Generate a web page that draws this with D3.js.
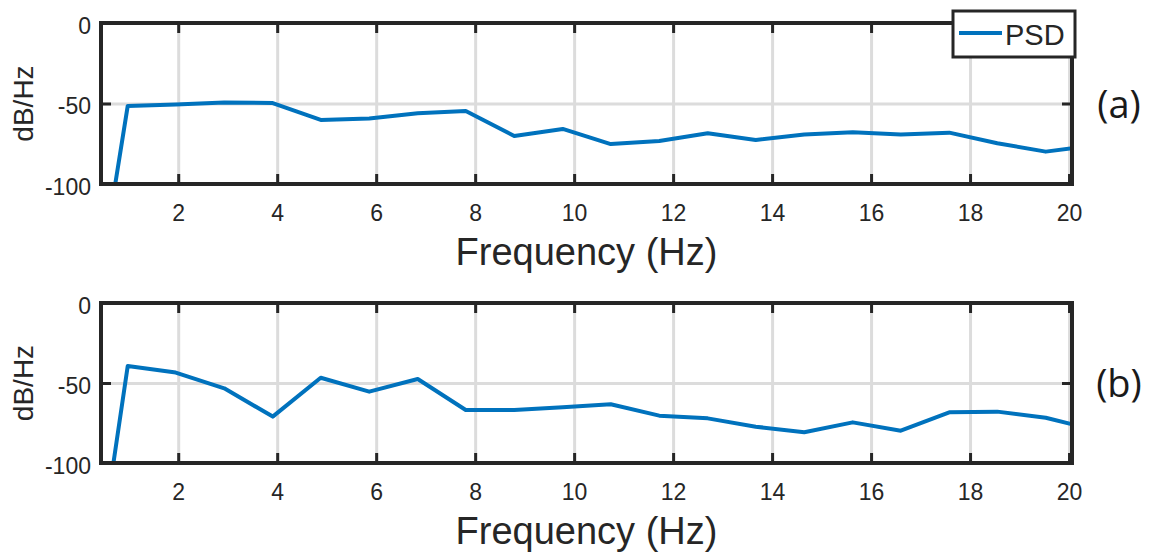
<!DOCTYPE html>
<html>
<head>
<meta charset="utf-8">
<script src="https://cdn.jsdelivr.net/npm/d3@7"></script>
<style>
  body { margin: 0; background: #fff; }
  text { font-family: "Liberation Sans", Arial, sans-serif; fill: #262626; }
</style>
</head>
<body>
<script>
// PSD values (dB/Hz), one point per frequency bin
const freqs = [0, 0.98, 1.95, 2.93, 3.91, 4.88, 5.86, 6.84, 7.81, 8.79, 9.77,
    10.74, 11.72, 12.70, 13.67, 14.65, 15.63, 16.60, 17.58, 18.55, 19.53, 20.51];
const psdA = [-240, -51.5, -50.6, -49.4, -49.7, -60.2, -59.3, -56, -54.7, -70.2, -65.8,
    -75.2, -73.3, -68.5, -72.7, -69.2, -67.9, -69.2, -68.1, -74.7, -79.9, -76];
const psdB = [-245, -39.4, -43.5, -53.3, -71, -46.7, -55.4, -47.5, -66.9, -66.9, -65.2,
    -63.3, -70.4, -72.1, -77.3, -80.8, -74.6, -79.8, -68.3, -67.9, -71.7, -79.3];
const xTicks = [2, 4, 6, 8, 10, 12, 14, 16, 18, 20];
const yTicks = [0, -50, -100];
const panelLabels = ["(a)", "(b)"];
const seriesName = "PSD";

const w = 1157;
const h = 559;
const left = 101, right = 1072;
const blue = "#0072BD";
const dark = "#262626";
const gridColor = "#dcdcdc";

const svg = d3.select("body")
    .append("svg")
        .attr("width", w)
        .attr("height", h)

const x = d3.scaleLinear().domain([0.44, 20.06]).range([left, right]);

function drawPanel(values, label, top, bottom, idx) {
    const y = d3.scaleLinear().domain([-100, 0]).range([bottom, top]);
    const g = svg.append("g");
    const ht = bottom - top;

    // grid lines
    g.append("g")
        .attr("transform", `translate(0,${bottom})`)
        .call(d3.axisBottom(x).tickValues(xTicks).tickSize(-ht).tickFormat(""))
        .call(a => a.select(".domain").remove())
        .selectAll("line")
            .attr("stroke", gridColor)
            .attr("stroke-width", 3)
    g.append("g")
        .attr("transform", `translate(${left},0)`)
        .call(d3.axisLeft(y).tickValues([-50]).tickSize(-(right - left)).tickFormat(""))
        .call(a => a.select(".domain").remove())
        .selectAll("line")
            .attr("stroke", gridColor)
            .attr("stroke-width", 3)

    // the data line, clipped to the axes box
    g.append("clipPath")
        .attr("id", "clip" + idx)
        .append("rect")
            .attr("x", left)
            .attr("y", top)
            .attr("width", right - left)
            .attr("height", ht)

    g.append("path")
        .datum(freqs.map((f, i) => [f, values[i]]))
        .attr("clip-path", `url(#clip${idx})`)
        .attr("fill", "none")
        .attr("stroke", blue)
        .attr("stroke-width", 4)
        .attr("stroke-linejoin", "round")
        .attr("d", d3.line().x(d => x(d[0])).y(d => y(d[1])))

    // bottom axis: inward ticks + labels
    g.append("g")
        .attr("transform", `translate(0,${bottom})`)
        .call(d3.axisBottom(x).tickValues(xTicks).tickSizeInner(-10).tickSizeOuter(0).tickPadding(21)
            .tickFormat(d => String(d)))
        .call(a => a.select(".domain").remove())
        .call(a => a.selectAll("line").attr("stroke", dark).attr("stroke-width", 3))
        .call(a => a.selectAll("text").style("font-size", "23px").attr("fill", dark))

    // top axis ticks, no labels
    g.append("g")
        .attr("transform", `translate(0,${top})`)
        .call(d3.axisTop(x).tickValues(xTicks).tickSizeInner(-10).tickSizeOuter(0).tickFormat(""))
        .call(a => a.select(".domain").remove())
        .call(a => a.selectAll("line").attr("stroke", dark).attr("stroke-width", 3))

    // left axis (plain hyphen minus, like the original)
    g.append("g")
        .attr("transform", `translate(${left},0)`)
        .call(d3.axisLeft(y).tickValues(yTicks).tickSizeInner(-10).tickSizeOuter(0).tickPadding(10)
            .tickFormat(d => String(d)))
        .call(a => a.select(".domain").remove())
        .call(a => a.selectAll("line").attr("stroke", dark).attr("stroke-width", 3))
        .call(a => a.selectAll("text").style("font-size", "23px").attr("fill", dark).attr("dy", "0.45em"))

    // right axis ticks
    g.append("g")
        .attr("transform", `translate(${right},0)`)
        .call(d3.axisRight(y).tickValues(yTicks).tickSizeInner(-10).tickSizeOuter(0).tickFormat(""))
        .call(a => a.select(".domain").remove())
        .call(a => a.selectAll("line").attr("stroke", dark).attr("stroke-width", 3))

    // box
    g.append("rect")
        .attr("x", left)
        .attr("y", top)
        .attr("width", right - left)
        .attr("height", ht)
        .attr("fill", "none")
        .attr("stroke", dark)
        .attr("stroke-width", 4)

    // y label
    g.append("text")
        .attr("transform", `translate(33,${(top + bottom) / 2}) rotate(-90)`)
        .attr("text-anchor", "middle")
        .style("font-size", "28px")
        .text("dB/Hz")

    // x label
    g.append("text")
        .attr("x", (left + right) / 2)
        .attr("y", bottom + 81)
        .attr("text-anchor", "middle")
        .style("font-size", "38px")
        .text("Frequency (Hz)")

    // panel tag
    g.append("text")
        .attr("x", 1119)
        .attr("y", (top + bottom) / 2 + 14)
        .attr("text-anchor", "middle")
        .style("font-family", "'Open Sans', sans-serif")
        .style("font-size", "38px")
        .style("fill", "#1a1a1a")
        .text(label)
}

drawPanel(psdA, panelLabels[0], 23, 184, 0);
drawPanel(psdB, panelLabels[1], 303, 463, 1);

// legend in the top panel's upper right corner
const legend = svg.append("g")
    .attr("id", "legend")

legend.append("rect")
    .attr("x", 953)
    .attr("y", 11)
    .attr("width", 122)
    .attr("height", 46)
    .attr("fill", "#fff")
    .attr("stroke", dark)
    .attr("stroke-width", 3)

legend.append("line")
    .attr("x1", 959)
    .attr("x2", 1002)
    .attr("y1", 33)
    .attr("y2", 33)
    .attr("stroke", blue)
    .attr("stroke-width", 4)

legend.append("text")
    .attr("x", 1005)
    .attr("y", 45)
    .style("font-size", "29px")
    .text(seriesName)
</script>
</body>
</html>
